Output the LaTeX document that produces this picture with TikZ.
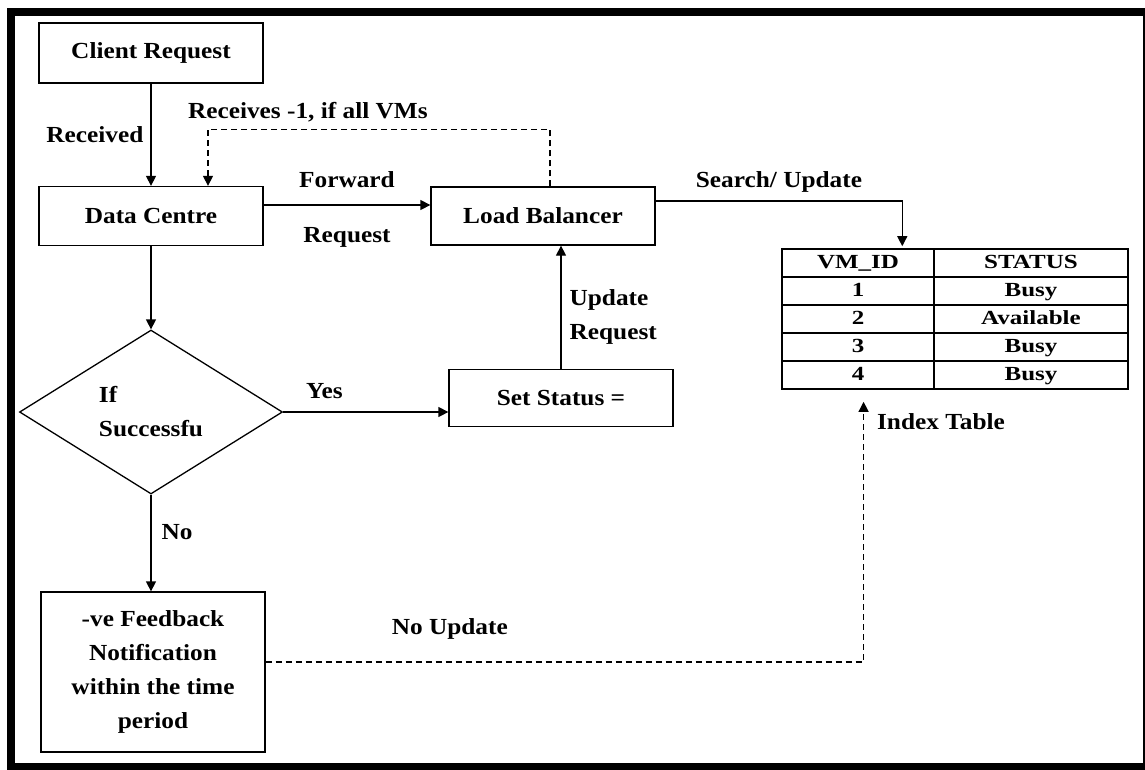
\documentclass[tikz,border=0pt]{standalone}
\usepackage{fontspec}
\setmainfont{Liberation Serif}[FakeStretch=1.1]
\newfontfamily\tabfont{Liberation Serif}[FakeStretch=1.25]
\usetikzlibrary{arrows.meta, shapes.geometric, matrix, positioning, calc}

\begin{document}
\begin{tikzpicture}[x=1pt, y=1pt, >={Triangle[width=10pt, length=10pt]},
    every node/.style={inner sep=2pt, font=\fontsize{23}{34}\selectfont\bfseries},
    box/.style={draw, line width=1.3pt, minimum width=224pt, inner sep=0pt},
    link/.style={line width=1.3pt},
    hint/.style={line width=1.3pt, dash pattern=on 6pt off 4pt},
    cell/.style={draw, line width=1.2pt, minimum height=28pt, inner sep=0pt,
      text height=14pt, text depth=4pt, font=\tabfont\fontsize{20}{22}\selectfont\bfseries}]
        \useasboundingbox (0,0) rectangle (1145,-769);
        \draw[line width=8pt] (11,-12) rectangle (1147,-767);
        \node[box, minimum height=60pt] (CR) at (151,-53) {Client Request};
        \node[box, minimum height=59pt] (DC) at (151,-216) {Data Centre};
        \node[box, minimum height=58pt] (LB) at (543,-216) {Load Balancer};
        \node[box, minimum height=57pt] (SS) at (561,-398) {Set Status =};
        \node[draw, diamond, line width=1.3pt, minimum width=263pt, minimum height=164pt,
          inner sep=0pt, align=left] (DEC) at (151,-412) {If\\Successfu};
        \node[box, minimum height=160pt, align=center]
          (FB) at (153,-672) {-ve Feedback\\Notification\\within the time\\period};
        \matrix (IDX) [matrix of nodes, nodes={cell}, row sep=-1.2pt, column sep=-1.2pt,
          column 1/.style={nodes={minimum width=152pt}},
          column 2/.style={nodes={minimum width=194pt}}] at (955,-319) {
          VM\_ID & STATUS \\
          1 & Busy \\
          2 & Available \\
          3 & Busy \\
          4 & Busy \\
        };
        \node[below=20pt of IDX, xshift=-14pt] (IT) {Index Table};
        \draw[link, ->] (CR) -- (DC) node[midway, left=5pt] (RCV) {Received};
        \draw[link, ->] ([yshift=11pt]DC.east) -- ([yshift=11pt]LB.west)
          node[midway, above=15pt] (FWD) {Forward}
          node[midway, below=20pt] (REQ) {Request};
        \draw[hint, ->] ([xshift=7pt]LB.north) -- ++(0,57) -| ([xshift=57pt]DC.north)
          node[pos=0.354, above=5pt] (RCVS) {Receives -1, if all VMs};
        \draw[link, ->] ([yshift=15pt]LB.east) -| ($(IDX.north west)!0.35!(IDX.north east)$)
          node[pos=0.25, above=6pt] (SRCH) {Search/ Update};
        \draw[link, ->] (DC.south) -- (DEC.north);
        \draw[link, ->] (DEC.east) -- (DEC.east -| SS.west)
          node[pos=0.25, above=11pt] (YES) {Yes};
        \draw[link, ->] (SS.north) -- (SS.north |- LB.south)
          node[midway, right=6pt, yshift=-10pt, align=left] (UPD) {Update\\Request};
        \draw[link, ->] (DEC.south) -- (DEC.south |- FB.north)
          node[pos=0.39, right=8pt] (NO) {No};
        \draw[hint, ->, shorten >=10pt] ([yshift=10pt]FB.east)
          -| ($(IDX.south west)!0.24!(IDX.south east)$)
          node[pos=0.154, above=20pt] (NUPD) {No Update};
      \end{tikzpicture}
\end{document}
